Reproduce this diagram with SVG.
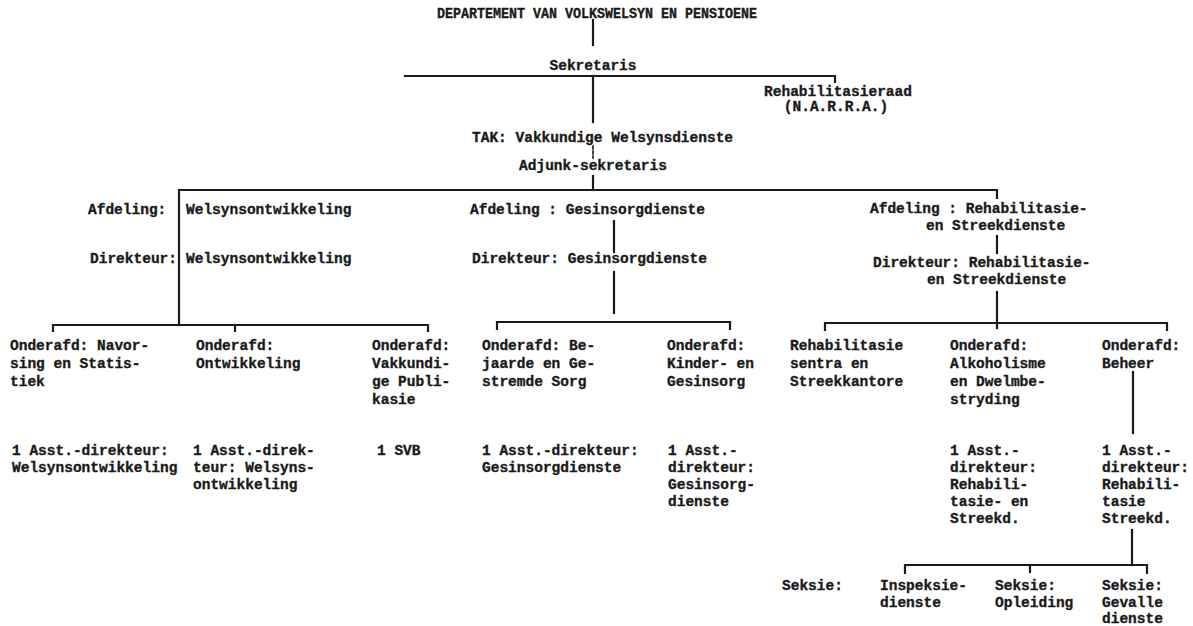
<svg xmlns="http://www.w3.org/2000/svg" width="1193" height="626" viewBox="0 0 1193 626">
<style>
text{font-family:"Liberation Mono","DejaVu Sans Mono",monospace;font-weight:bold;font-size:14.5px;fill:#1a1a1a;stroke:#1a1a1a;stroke-width:0.35}
.c{text-anchor:middle}
.e{text-anchor:end}
#connectors line,#connectors path{stroke:#1a1a1a;stroke-width:2.2;fill:none;stroke-linecap:square}
#connectors .d{stroke-dasharray:3 2;stroke-width:1.6}
</style>
<rect width="1193" height="626" fill="#ffffff"/>
<g id="connectors">
<line x1="593" y1="20" x2="593" y2="45"/>
<path d="M405 76 H835 V82"/>
<line x1="593" y1="76" x2="593" y2="122"/>
<line class="d" x1="593" y1="146" x2="593" y2="158"/>
<line x1="593" y1="176" x2="593" y2="190"/>
<path d="M179 190 H997 V198"/>
<line x1="179" y1="190" x2="179" y2="325"/>
<path d="M53 331 V325 H428 V331"/>
<line x1="235" y1="325" x2="235" y2="331"/>
<line x1="614" y1="221" x2="614" y2="252"/>
<line x1="614" y1="272" x2="614" y2="313"/>
<path d="M497 329 V322 H730 V329"/>
<line x1="997" y1="236" x2="997" y2="253"/>
<line x1="997" y1="292" x2="997" y2="323"/>
<path d="M825 330 V323 H1167 V330"/>
<line x1="997" y1="323" x2="997" y2="328"/>
<line x1="1133" y1="372" x2="1133" y2="433"/>
<line x1="1132" y1="530" x2="1132" y2="565"/>
<path d="M905 573 V565 H1147 V573"/>
<line x1="1030" y1="565" x2="1030" y2="572"/>
</g>
<g id="departement"><text class="c" x="597" y="18" textLength="320" lengthAdjust="spacingAndGlyphs">DEPARTEMENT VAN VOLKSWELSYN EN PENSIOENE</text></g>
<g id="sekretaris"><text class="c" x="593" y="70">Sekretaris</text></g>
<g id="rehabilitasieraad"><text class="c" x="838" y="96">Rehabilitasieraad</text><text class="c" x="836" y="111">(N.A.R.R.A.)</text></g>
<g id="tak"><text x="472" y="142">TAK: Vakkundige Welsynsdienste</text></g>
<g id="adjunk"><text class="c" x="593" y="170">Adjunk-sekretaris</text></g>
<g id="afd-welsyn"><text x="88" y="214">Afdeling:</text><text x="186" y="214">Welsynsontwikkeling</text></g>
<g id="dir-welsyn"><text class="e" x="177" y="263">Direkteur:</text><text x="186" y="263">Welsynsontwikkeling</text></g>
<g id="afd-gesin"><text x="470" y="214">Afdeling : Gesinsorgdienste</text></g>
<g id="dir-gesin"><text x="472" y="263">Direkteur: Gesinsorgdienste</text></g>
<g id="afd-rehab"><text x="870" y="213">Afdeling : Rehabilitasie-</text><text x="926" y="230">en Streekdienste</text></g>
<g id="dir-rehab"><text x="873" y="267">Direkteur: Rehabilitasie-</text><text x="927" y="284">en Streekdienste</text></g>
<g id="navorsing"><text x="10" y="350">Onderafd: Navor-</text><text x="10" y="368">sing en Statis-</text><text x="10" y="386">tiek</text></g>
<g id="ontwikkeling"><text x="196" y="350">Onderafd:</text><text x="196" y="368">Ontwikkeling</text></g>
<g id="publikasie"><text x="372" y="350">Onderafd:</text><text x="372" y="368">Vakkundi-</text><text x="372" y="386">ge Publi-</text><text x="372" y="404">kasie</text></g>
<g id="bejaarde"><text x="482" y="350">Onderafd: Be-</text><text x="482" y="368">jaarde en Ge-</text><text x="482" y="386">stremde Sorg</text></g>
<g id="kinder"><text x="667" y="350">Onderafd:</text><text x="667" y="368">Kinder- en</text><text x="667" y="386">Gesinsorg</text></g>
<g id="rehab-sentra"><text x="790" y="350">Rehabilitasie</text><text x="790" y="368">sentra en</text><text x="790" y="386">Streekkantore</text></g>
<g id="alkoholisme"><text x="950" y="350">Onderafd:</text><text x="950" y="368">Alkoholisme</text><text x="950" y="386">en Dwelmbe-</text><text x="950" y="404">stryding</text></g>
<g id="beheer"><text x="1102" y="350">Onderafd:</text><text x="1102" y="368">Beheer</text></g>
<g id="asst-navorsing"><text x="12" y="455">1 Asst.-direkteur:</text><text x="12" y="472">Welsynsontwikkeling</text></g>
<g id="asst-ontwikkeling"><text x="193" y="455">1 Asst.-direk-</text><text x="193" y="472">teur: Welsyns-</text><text x="193" y="489">ontwikkeling</text></g>
<g id="svb"><text x="377" y="455">1 SVB</text></g>
<g id="asst-bejaarde"><text x="482" y="455">1 Asst.-direkteur:</text><text x="482" y="472">Gesinsorgdienste</text></g>
<g id="asst-kinder"><text x="668" y="455">1 Asst.-</text><text x="668" y="472">direkteur:</text><text x="668" y="489">Gesinsorg-</text><text x="668" y="506">dienste</text></g>
<g id="asst-alkoholisme"><text x="950" y="455">1 Asst.-</text><text x="950" y="472">direkteur:</text><text x="950" y="489">Rehabili-</text><text x="950" y="506">tasie- en</text><text x="950" y="523">Streekd.</text></g>
<g id="asst-beheer"><text x="1102" y="455">1 Asst.-</text><text x="1102" y="472">direkteur:</text><text x="1102" y="489">Rehabili-</text><text x="1102" y="506">tasie</text><text x="1102" y="523">Streekd.</text></g>
<g id="seksie-label"><text x="782" y="590">Seksie:</text></g>
<g id="inspeksie"><text x="880" y="590">Inspeksie-</text><text x="880" y="607">dienste</text></g>
<g id="opleiding"><text x="995" y="590">Seksie:</text><text x="995" y="607">Opleiding</text></g>
<g id="gevalle"><text x="1102" y="590">Seksie:</text><text x="1102" y="607">Gevalle</text><text x="1102" y="623">dienste</text></g>
</svg>
